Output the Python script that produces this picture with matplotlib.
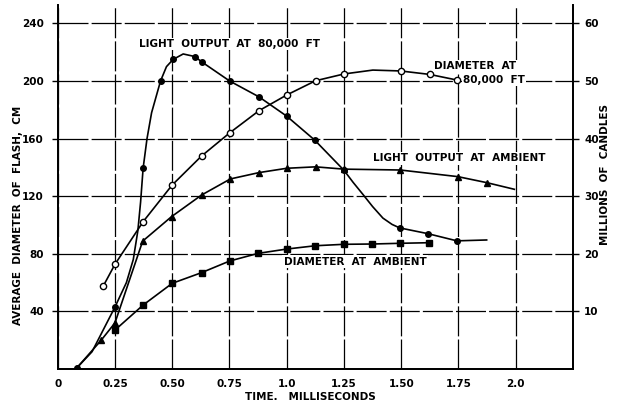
import matplotlib
matplotlib.use("Agg")
import matplotlib.pyplot as plt

# --- Messwerte (Zeit in ms) ---
# Lichtleistung in 80.000 ft Höhe, Millionen Candle (rechte Achse)
light_80k_t = [0.085, 0.15, 0.25, 0.30, 0.33, 0.35, 0.362, 0.373, 0.39, 0.41, 0.449, 0.475,
               0.504, 0.548, 0.599, 0.628, 0.751, 0.879, 1.0, 1.122, 1.25, 1.29, 1.333,
               1.375, 1.42, 1.46, 1.493, 1.616, 1.743, 1.873]
light_80k_mc = [0.25, 3.0, 10.75, 15.0, 19.0, 24.0, 29.0, 34.85, 40.0, 44.5, 50.0, 52.5,
                53.75, 54.7, 54.25, 53.35, 50.0, 47.25, 43.9, 39.75, 34.5, 32.4, 30.3,
                28.2, 26.2, 25.1, 24.5, 23.5, 22.25, 22.4]
light_80k_pt_t = [0.085, 0.25, 0.373, 0.449, 0.504, 0.599, 0.628, 0.751, 0.879, 1.0, 1.122,
                  1.25, 1.493, 1.616, 1.743]
light_80k_pt_mc = [0.25, 10.75, 34.85, 50.0, 53.75, 54.25, 53.35, 50.0, 47.25, 43.9, 39.75,
                   34.5, 24.5, 23.5, 22.25]

# Lichtleistung am Boden (Dreiecke), Millionen Candle
light_amb_t = [0.085, 0.19, 0.25, 0.371, 0.497, 0.628, 0.754, 0.879, 1.0, 1.126, 1.25,
               1.496, 1.747, 1.874, 1.994]
light_amb_mc = [0.25, 5.0, 8.0, 22.2, 26.45, 30.2, 33.0, 34.1, 34.85, 35.1, 34.7,
                34.55, 33.4, 32.35, 31.2]

# Durchmesser in 80.000 ft (offene Kreise), cm
diam_80k_t = [0.199, 0.25, 0.373, 0.5, 0.628, 0.751, 0.879, 1.0, 1.126, 1.25, 1.376,
              1.497, 1.624, 1.743]
diam_80k_cm = [57.6, 72.7, 102.3, 127.8, 147.9, 164.0, 179.4, 190.3, 200.2, 204.9, 207.6,
               207.0, 204.6, 200.7]
diam_80k_pt_t = [0.199, 0.25, 0.373, 0.5, 0.628, 0.751, 0.879, 1.0, 1.126, 1.25,
                 1.497, 1.624, 1.743]
diam_80k_pt_cm = [57.6, 72.7, 102.3, 127.8, 147.9, 164.0, 179.4, 190.3, 200.2, 204.9,
                  207.0, 204.6, 200.7]

# Durchmesser am Boden (Quadrate), cm
diam_amb_t = [0.25, 0.373, 0.5, 0.628, 0.751, 0.875, 1.0, 1.125, 1.25, 1.374, 1.496, 1.62]
diam_amb_cm = [27.0, 44.4, 59.5, 66.9, 75.0, 80.3, 83.3, 85.6, 86.6, 86.8, 87.3, 87.7]

x_ticks = [0, 0.25, 0.5, 0.75, 1.0, 1.25, 1.5, 1.75, 2.0]
x_tick_labels = ["0", "0.25", "0.50", "0.75", "1.0", "1.25", "1.50", "1.75", "2.0"]
y_ticks_cm = [40, 80, 120, 160, 200, 240]
y_ticks_mc = [10, 20, 30, 40, 50, 60]

TICK_FONT = dict(fontsize=7.5, fontweight="bold", family="DejaVu Sans")
LABEL_FONT = dict(fontsize=7.5, fontweight="bold", family="DejaVu Sans")

fig = plt.figure(figsize=(6.17, 4.07), dpi=100)
ax = fig.add_axes([0.0935, 0.0934, 0.8352, 0.8943])
ax.set_xlim(0, 2.25)
ax.set_ylim(0, 252.8)
ax2 = ax.twinx()
ax2.set_ylim(0, 63.2)

for a in (ax, ax2):
    a.spines["top"].set_visible(False)
    for s in a.spines.values():
        s.set_linewidth(1.3)

ax.set_xticks(x_ticks)
ax.set_xticklabels(x_tick_labels, **TICK_FONT)
ax.set_yticks(y_ticks_cm)
ax.set_yticklabels([str(v) for v in y_ticks_cm], **TICK_FONT)
ax2.set_yticks(y_ticks_mc)
ax2.set_yticklabels([str(v) for v in y_ticks_mc], **TICK_FONT)
ax.tick_params(axis="x", length=0, pad=7)
ax.tick_params(axis="y", length=4, width=1, pad=6)
ax2.tick_params(axis="y", length=4, width=1, pad=4)

# Gitter wie von Hand gezogen: lange Striche, kurze Lücken
ax.grid(True, color="black", linewidth=0.9, linestyle=(0, (24, 2.5)))
ax.set_axisbelow(True)

# Kurven
ax2.plot(light_80k_t, light_80k_mc, color="black", lw=1.2, zorder=3)
ax2.plot(light_80k_pt_t, light_80k_pt_mc, "o", color="black", ms=4, zorder=4)
ax2.plot(light_amb_t, light_amb_mc, color="black", lw=1.2, zorder=3)
ax2.plot(light_amb_t[:-1], light_amb_mc[:-1], "^", color="black", ms=4, zorder=4)
ax.plot(diam_80k_t, diam_80k_cm, color="black", lw=1.2, zorder=3)
ax.plot(diam_80k_pt_t, diam_80k_pt_cm, "o", mfc="white", mec="black", mew=1.0, ms=4.5, zorder=4)
ax.plot(diam_amb_t, diam_amb_cm, color="black", lw=1.2, zorder=3)
ax.plot(diam_amb_t, diam_amb_cm, "s", color="black", ms=3.8, zorder=4)

box = dict(facecolor="white", edgecolor="none", pad=1.0)
ax.text(0.752, 225.7, "LIGHT  OUTPUT  AT  80,000  FT", ha="center", va="center",
        bbox=box, zorder=5, **LABEL_FONT)
ax.text(1.645, 210.4, "DIAMETER  AT", ha="left", va="center", bbox=box, zorder=5, **LABEL_FONT)
ax.text(1.77, 200.7, "80,000  FT", ha="left", va="center", bbox=box, zorder=5, **LABEL_FONT)
ax.text(1.753, 146.3, "LIGHT  OUTPUT  AT  AMBIENT", ha="center", va="center",
        bbox=box, zorder=5, **LABEL_FONT)
ax.text(1.299, 74.5, "DIAMETER  AT  AMBIENT", ha="center", va="center",
        bbox=box, zorder=5, **LABEL_FONT)

fig.text(310 / 617, 1 - 397 / 407, "TIME.   MILLISECONDS", ha="center", va="center", **LABEL_FONT)
fig.text(18 / 617, 1 - 215 / 407, "AVERAGE  DIAMETER  OF  FLASH,  CM", rotation=90,
         ha="center", va="center", **LABEL_FONT)
fig.text(605 / 617, 1 - 175 / 407, "MILLIONS  OF  CANDLES", rotation=90,
         ha="center", va="center", **LABEL_FONT)

fig.savefig("out.png", dpi=100, facecolor="white")
